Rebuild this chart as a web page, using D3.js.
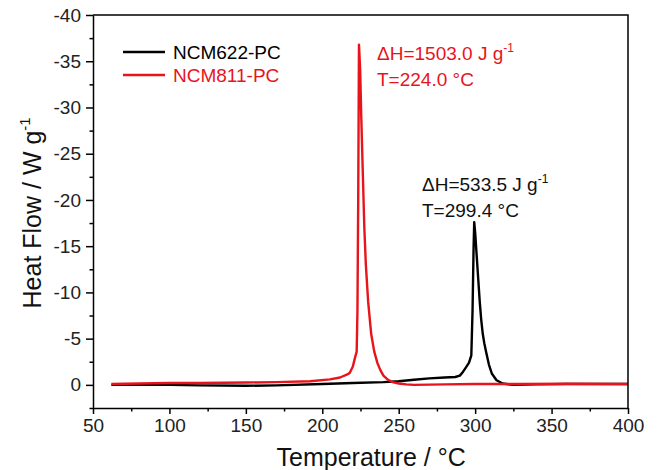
<!DOCTYPE html>
<html>
<head>
    <title>DSC Heat Flow - D3.js</title>
    <script src="https://d3js.org/d3.v7.min.js"></script>
    <style>
        body { margin: 0; background: #fff; }
        .axis path, .axis line { stroke: #000; stroke-width: 1.5; }
        .axis text { font-family: "Liberation Sans", Arial, sans-serif; font-size: 19px; fill: #222; }
        .axis-title { font-family: "Liberation Sans", Arial, sans-serif; font-size: 25px; fill: #111; }
        .label { font-family: "Liberation Sans", Arial, sans-serif; font-size: 19px; }
    </style>
</head>
<body>
<div id="chart"></div>
<script>
    // NCM622-PC (hitam)
    const ncm622Temp = [62, 80, 100, 120, 150, 170, 200, 220, 240, 250, 260, 270, 280, 287, 290, 292, 294, 296, 297.5, 298.3, 299, 299.4, 300, 301, 302, 303, 304, 305, 306, 307, 309, 311, 314, 318, 325, 340, 360, 400];
    const ncm622Flow = [0, 0, 0, 0.05, 0.1, 0.05, -0.1, -0.2, -0.3, -0.4, -0.55, -0.7, -0.8, -0.85, -1.0, -1.4, -1.9, -2.4, -3.2, -8, -15, -17.6, -16.5, -14, -11.5, -9, -7, -5.5, -4.5, -3.7, -2.2, -1.2, -0.5, -0.15, 0, -0.05, -0.1, -0.1];

    // NCM811-PC (merah)
    const ncm811Temp = [62, 80, 100, 120, 150, 170, 192, 205, 211.6, 216, 218, 220, 221.5, 222.5, 223, 223.5, 224, 224.8, 225.5, 226.5, 227.5, 228.5, 230, 232, 234, 236, 238, 240, 243, 246, 250, 255, 260, 280, 300, 330, 360, 400];
    const ncm811Flow = [-0.1, -0.15, -0.2, -0.2, -0.25, -0.3, -0.4, -0.6, -0.8, -1.1, -1.3, -2.0, -3.0, -3.6, -8, -20, -36.8, -34, -29, -23, -17, -13, -9, -5.5, -3.6, -2.4, -1.6, -1.0, -0.55, -0.3, -0.15, -0.05, 0, -0.05, -0.1, -0.1, -0.12, -0.1];

    const xTicks = [50, 100, 150, 200, 250, 300, 350, 400];
    const xMinor = [75, 125, 175, 225, 275, 325, 375];
    const yTicks = [-40, -35, -30, -25, -20, -15, -10, -5, 0];
    const yMinor = [-37.5, -32.5, -27.5, -22.5, -17.5, -12.5, -7.5, -2.5, 2.5];

    const series = [
        { name: "NCM622-PC", color: "#000", temp: ncm622Temp, flow: ncm622Flow },
        { name: "NCM811-PC", color: "#e8141c", temp: ncm811Temp, flow: ncm811Flow }
    ];

    const W = 659, H = 470;
    const margin = { top: 15, right: 31, bottom: 62, left: 93 };
    const width = W - margin.left - margin.right;
    const height = H - margin.top - margin.bottom;

    const svg = d3.select("#chart").append("svg")
        .attr("width", W).attr("height", H)
        .append("g")
        .attr("transform", `translate(${margin.left},${margin.top})`);

    const x = d3.scaleLinear().domain([50, 400]).range([0, width]);
    const y = d3.scaleLinear().domain([-40, 2.5]).range([0, height]);

    // kurva
    const line = d3.line().x(d => x(d[0])).y(d => y(d[1]));
    series.forEach(s => {
        svg.append("path")
            .datum(s.temp.map((t, i) => [t, s.flow[i]]))
            .attr("fill", "none")
            .attr("stroke", s.color)
            .attr("stroke-width", 2.4)
            .attr("stroke-linejoin", "round")
            .attr("d", line);
    });

    // bingkai atas & kanan
    svg.append("path")
        .attr("d", `M0,0H${width}V${height}`)
        .attr("fill", "none").attr("stroke", "#000").attr("stroke-width", 1.5);

    // sumbu X
    svg.append("g").attr("class", "axis")
        .attr("transform", `translate(0,${height})`)
        .call(d3.axisBottom(x).tickValues(xTicks).tickFormat(d => String(d)).tickSize(6).tickPadding(5).tickSizeOuter(0));
    svg.append("g").attr("class", "axis")
        .attr("transform", `translate(0,${height})`)
        .call(d3.axisBottom(x).tickValues(xMinor).tickFormat("").tickSize(3.5).tickSizeOuter(0))
        .select(".domain").remove();

    // sumbu Y
    svg.append("g").attr("class", "axis")
        .call(d3.axisLeft(y).tickValues(yTicks).tickFormat(d => String(d)).tickSize(7).tickPadding(5).tickSizeOuter(0));
    svg.append("g").attr("class", "axis")
        .call(d3.axisLeft(y).tickValues(yMinor).tickFormat("").tickSize(3.5).tickSizeOuter(0))
        .select(".domain").remove();

    // judul sumbu
    svg.append("text").attr("class", "axis-title")
        .attr("x", x(232)).attr("y", height + 58)
        .attr("text-anchor", "middle")
        .text("Temperature / °C");

    const yt = svg.append("text").attr("class", "axis-title")
        .attr("transform", `translate(${-52},${y(-18.6)}) rotate(-90)`)
        .attr("text-anchor", "middle");
    yt.append("tspan").text("Heat Flow / W g");
    yt.append("tspan").attr("dy", -11).attr("font-size", 15).text("-1");

    // legenda
    series.forEach((s, i) => {
        const ly = 37 + i * 23;
        svg.append("line")
            .attr("x1", 30).attr("x2", 72).attr("y1", ly).attr("y2", ly)
            .attr("stroke", s.color).attr("stroke-width", 2.4);
        svg.append("text").attr("class", "label")
            .attr("x", 80).attr("y", ly + 7)
            .attr("fill", s.color)
            .text(s.name);
    });

    // anotasi puncak
    function annotate(x0, y0, color, dh, t) {
        const a = svg.append("text").attr("class", "label").attr("fill", color)
            .attr("x", x0).attr("y", y0);
        a.append("tspan").text(`ΔH=${dh} J g`);
        a.append("tspan").attr("dy", -8).attr("font-size", 12).text("-1");
        svg.append("text").attr("class", "label").attr("fill", color)
            .attr("x", x0).attr("y", y0 + 26)
            .text(`T=${t} °C`);
    }
    annotate(284, 45, "#e8141c", "1503.0", "224.0");
    annotate(329, 176, "#111", "533.5", "299.4");
</script>
</body>
</html>
